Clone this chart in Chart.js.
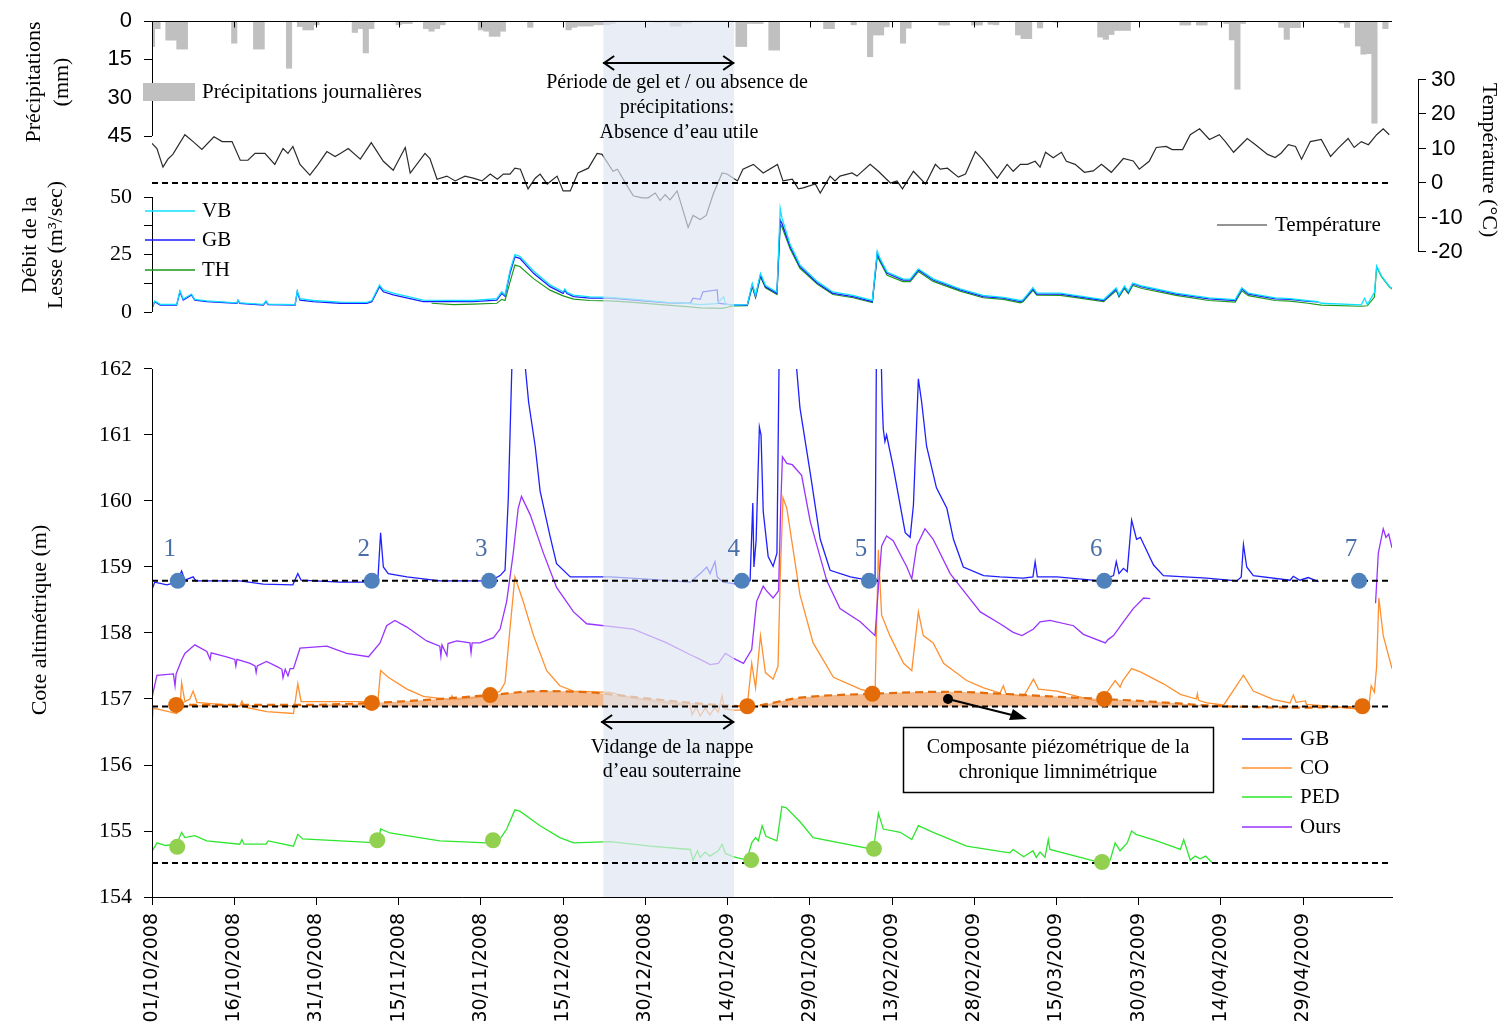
<!DOCTYPE html>
<html>
<head>
<meta charset="utf-8">
<script src="https://cdn.jsdelivr.net/npm/chart.js@4.4.1/dist/chart.umd.min.js"></script>
<style>
  html, body { margin: 0; padding: 0; background: #fff; }
</style>
</head>
<body>
<canvas id="chart" width="1506" height="1036"></canvas>
<script>
// ---- x axis: days since 01/10/2008 ----
const dateTickDays = [0, 15, 30, 45, 60, 75, 90, 105, 120, 135, 150, 165, 180, 195, 210];
const dateTickLabels = ['01/10/2008', '16/10/2008', '31/10/2008', '15/11/2008', '30/11/2008',
  '15/12/2008', '30/12/2008', '14/01/2009', '29/01/2009', '13/02/2009', '28/02/2009',
  '15/03/2009', '30/03/2009', '14/04/2009', '29/04/2009'];
const lastDay = 226.2;
const frostPeriod = [82.3, 106.2];

const precipTicks = [0, 15, 30, 45];
const tempTicks = [30, 20, 10, 0, -10, -20];
const flowTicks = [0, 12.5, 25, 37.5, 50];
const levelTicks = [154, 155, 156, 157, 158, 159, 160, 161, 162];

// daily precipitation [day, mm]
const precipitation = [[0,10],[1,3],[3,7.5],[4,7.5],[5,11],[6,11],[15,8.7],[19,11],[20,11],[25,18.5],
  [27,2.2],[28,3.5],[29,3.5],[30,1.5],[37,4.5],[38,3],[39,12.5],[40,3],[45,1.5],[46,1],[47,1],
  [50,3],[51,4],[52,3],[53,1.5],[60,3.5],[61,4],[62,6],[63,6],[64,4],[69,2.5],[76,3.5],[77,2.5],
  [78,2],[79,2],[80,2],[81,1.5],[82,1.5],[83,1.5],[84,1],[92,0.5],[93,0.5],[95,2],[96,2],[97,0.8],
  [98,0.8],[107,10],[108,10],[109,1],[110,1],[111,1],[113,11.4],[114,11.4],[123,3],[124,3],[128,1.5],
  [131,14],[132,5.5],[133,5.5],[134,2.3],[137,8.7],[138,2.8],[144,1.6],[145,1.6],[150,1.6],[151,1.6],
  [153,1.3],[154,1.5],[158,5.5],[159,6.9],[160,6.9],[162,2.7],[165,0.5],[173,6.3],[174,7.2],[175,5.3],
  [176,3.7],[177,3.7],[178,3.7],[188,1.6],[189,1.6],[191,1.6],[192,1.6],[196,1],[197,7.4],[198,26.7],
  [199,1],[206,2.5],[207,7.2],[208,2.6],[209,2.6],[217,0.8],[218,2.5],[220,9.8],[221,13],[222,12.8],
  [223,40],[225,3]];

// daily temperature [day, °C]
const temperature = [[0,11.5],[0.9,10],[2,4.6],[2.9,6.9],[3.8,8.3],[6,14],[7.5,12],[9.1,9.7],[11.3,13.4],
  [12.8,12],[14.6,12],[16.1,6.6],[17.5,6.6],[18.8,8.6],[20.6,8.6],[22.4,5.4],[23.9,10],[24.8,8.6],
  [25.7,10.6],[27,5.4],[28.8,2.3],[30.3,5.4],[31.9,9.1],[33.4,7.7],[34.5,8.7],[35.8,10],[38,6.9],
  [40,11.7],[42.2,6.3],[44,3.7],[46.2,10.3],[47.1,2.9],[49.8,8.6],[50.7,7.1],[52,1.1],[53.8,2],
  [55.3,0.6],[57.1,2],[58.6,1.4],[60.2,0.6],[61.7,2.6],[63,1.1],[64.1,2.6],[65.3,2.6],[66.2,4.3],
  [67.2,4],[68.6,-1.7],[69.9,1.4],[70.8,2.6],[72.1,-0.3],[73.9,2],[75,-2.3],[76.3,-2.3],[77.7,2.9],
  [79.6,4.3],[81.2,8.6],[82.1,8.3],[84.1,3.4],[84.9,4],[86.7,-0.9],[87.8,-3.7],[89.4,-4.3],[90.5,-4.3],
  [91.8,-2.9],[92.7,-5.1],[93.6,-3.4],[94.5,-4.9],[95.8,-2.3],[97.8,-12.9],[98.7,-9.4],[100,-10.6],
  [101.1,-9.4],[102.4,-3.1],[104,2.9],[104.9,2.6],[106.8,0.6],[107.8,4],[109.7,5.4],[111.5,2.9],
  [114.1,5.4],[115.1,0.6],[116.8,1.1],[117.9,-1.7],[118.8,-1.4],[121,-0.3],[121.9,-2.9],[123.7,2],
  [124.6,0.6],[125.5,2],[127.7,2.9],[128.6,2],[131,5.4],[132.5,3.4],[134.7,0],[135.9,0.6],[136.9,-1.7],
  [138.9,3.4],[141.1,-0.3],[142.9,5.4],[143.8,4],[145.1,4.3],[147.1,1.7],[148.4,2.6],[150.2,9.1],
  [151.5,6.9],[154.2,1.4],[156,5.4],[157.1,3.4],[158.4,5.4],[159.7,5.4],[161.1,6.3],[162,4.6],[163,8.9],
  [164.4,7.3],[165.9,8.9],[166.8,6.3],[168.4,5.4],[170.1,3.1],[171.7,3.5],[173.2,5.4],[175,3.1],
  [177.2,7.1],[179,6.4],[180.1,4],[181.9,6.3],[183.2,10.3],[185,10.6],[186.1,9.7],[188,9.7],[189.4,14],
  [191.1,15.7],[192.9,12.6],[194.7,14],[195.8,12],[197.3,8.9],[199.8,12.9],[201.3,11.1],[203.5,8.3],
  [204.9,7.4],[206,8.7],[207.3,11.1],[208.6,10.6],[209.7,6.9],[211.3,12],[213.3,12.6],[215,7.7],
  [216.4,10.1],[218.2,12.9],[219.3,10.3],[220.6,12],[221.9,11.1],[223.4,14],[224.6,15.7],[225.7,14]];

// discharge of the Lesse [day, m3/s]
const flowVB = [[0,2],[0.5,4.8],[1.5,3.3],[4.5,3.3],[5.1,9.3],[5.7,5.6],[7.2,7.8],[7.8,5.5],[10,4.8],
  [15.5,4],[15.7,5.2],[16,4],[20.3,3.3],[20.8,4.8],[21.2,3.4],[26.1,3.2],[26.5,9.2],[27,5.8],[29.4,5],
  [34.3,4.3],[39.2,4.2],[40.1,5],[41.5,11.8],[42.2,9.6],[44,8.2],[49.5,5.2],[58.6,5],[62.9,5.8],
  [63.8,8.8],[64.4,7.4],[65.3,18],[66.2,25],[67.1,24.2],[69.6,17.8],[72.6,11.8],[75,8.8],[75.3,10],
  [75.7,8.6],[76.9,7.3],[79.9,6.6],[83.6,6.4],[87.8,5.6],[94,4.2],[98.2,3.6],[100,3.2],[103,3.6],
  [104.3,6.6],[104.6,3.4],[106,3],[108.6,3.2],[109.5,12.3],[110.1,7.2],[111,16.8],[111.9,11.6],[114,8.6],
  [114.6,45],[114.9,41],[116.4,29.4],[118.2,20.5],[121.4,13.2],[124.2,8.7],[127.9,7.2],[131.4,5],
  [132.3,26.5],[132.8,23.3],[134.1,17.4],[137,14.4],[138.3,14.3],[138.8,15.8],[139.8,18.8],[142.5,14.4],
  [147.4,10.1],[151.6,7.2],[155.3,6.4],[158.4,5],[158.9,5.4],[160.7,10.6],[161.4,8.3],[165.7,8.2],
  [173.6,5.4],[175.9,10.5],[176.4,7.4],[177.4,11.3],[178.1,8.9],[178.9,12.6],[180.6,11.3],[186.8,8.2],
  [192.8,6.1],[197.6,5.4],[198.8,10.5],[200,8.2],[204.9,6.1],[207.6,5.8],[210.9,4.9],[212.7,4.5],
  [213.3,3.8],[220.6,3.1],[221.2,6],[221.7,3.2],[223,8.5],[223.4,20],[224.3,15.6],[225.7,11.2],[226.2,10.3]];
const flowGB = [[0,1.6],[0.5,4.5],[1.5,3],[4.5,3],[5.1,8.8],[5.7,5.2],[7.2,7.4],[7.8,5.2],[10,4.5],
  [15.5,3.8],[15.7,5],[16,3.8],[20.3,3],[20.8,4.5],[21.2,3.2],[26.1,3],[26.5,8.8],[27,5.2],[29.4,4.5],
  [34.3,3.8],[39.2,3.8],[40.1,4.5],[41.5,11],[42.2,8.8],[44,7.4],[49.5,4.5],[58.6,4.5],[62.9,5.2],
  [63.8,8.1],[64.4,6.8],[65.3,16.8],[66.2,24],[67.1,23.3],[69.6,16.8],[72.6,11],[75,8.1],[75.3,9.5],
  [75.7,8],[76.9,6.7],[79.9,6],[83.6,6],[87.8,5.2],[94,4],[98.2,3.8],[98.7,6],[100,5.5],[100.5,8.8],
  [103.1,9.6],[103.3,3.8],[106,3],[108.6,3],[109.5,11.7],[110.1,6.7],[111,16],[111.9,11],[114,8.1],
  [114.6,40],[114.9,38.6],[116.4,28.4],[118.2,19.7],[121.4,12.5],[124.2,8.1],[127.9,6.7],[131.4,4.5],
  [132.3,25.5],[132.8,22.6],[134.1,16.8],[137,13.9],[138.3,13.9],[138.8,15.3],[139.8,18.3],[142.5,13.9],
  [147.4,9.6],[151.6,6.7],[155.3,6],[158.4,4.5],[158.9,5],[160.7,10],[161.4,7.8],[165.7,7.8],[173.6,5],
  [175.9,10],[176.4,7],[177.4,10.9],[178.1,8.5],[178.9,12.2],[180.6,10.9],[186.8,7.8],[192.8,5.7],
  [197.6,5],[198.8,10],[200,7.8],[204.9,5.7],[207.6,5.5],[210.9,4.6],[212.7,4.4]];
const flowTH = [[51,3.8],[55,3.2],[58.6,3.4],[62.9,3.8],[63.8,5.5],[64.4,5],[65.3,13],[66.2,20.4],
  [67.1,19.8],[69.6,14.5],[72.6,9.5],[75,7],[76.9,5.6],[79.9,5],[83.6,4.8],[87.8,4.2],[94,3],[98.2,2.2],
  [100,1.8],[104,1.6],[106,2.6],[108.6,2.8],[109.5,11],[110.1,6.2],[111,15.3],[111.9,10.5],[114,7.6],
  [114.6,38],[114.9,37],[116.4,27.5],[118.2,19],[121.4,12],[124.2,7.6],[127.9,6.2],[131.4,4.1],
  [132.3,24.5],[132.8,21.8],[134.1,16],[137,13.2],[138.3,13.2],[138.8,14.6],[139.8,17.6],[142.5,13.3],
  [147.4,9.1],[151.6,6.2],[155.3,5.5],[158.4,4],[158.9,4.5],[160.7,9.4],[161.4,7.3],[165.7,7.2],
  [173.6,4.5],[175.9,9.3],[176.4,6.5],[177.4,10.2],[178.1,8],[178.9,11.5],[180.6,10.2],[186.8,7.2],
  [192.8,5],[197.6,4.3],[198.8,9.2],[200,7.1],[204.9,5],[207.6,4.7],[210.9,3.8],[213.3,3],[220.6,2.5],
  [221.7,2.7],[223,6.5],[223.4,19.6],[224.3,15.2],[225.7,10.9],[226.2,10]];

// water levels [day, m]
const levelGB = [[0,158.66],[0.5,158.77],[2.7,158.73],[4.5,158.77],[5.4,158.94],[6,158.8],[7.5,158.85],
  [8,158.79],[16,158.79],[20.3,158.74],[25.7,158.73],[26.6,158.9],[27.2,158.8],[34.3,158.77],[39.8,158.77],
  [41.2,158.8],[41.7,159.52],[42.2,159],[43.1,158.9],[46.5,158.85],[52.5,158.79],[61.7,158.79],
  [63.5,158.87],[64.4,158.95],[65,160.05],[65.7,162.2],[66.8,163.5],[67.9,162.2],[68.7,161.5],
  [69.9,160.83],[70.8,160.15],[72.6,159.47],[73.8,159.05],[76.3,158.85],[83.6,158.85],[89.6,158.82],
  [98.2,158.77],[100,158.9],[101.2,159],[101.8,158.9],[102.7,159.08],[103.1,158.85],[104.2,158.77],
  [106.7,158.74],[109.1,158.79],[109.6,159.97],[109.8,159],[110.2,159.4],[110.8,161.12],[111.1,161],
  [111.5,159.84],[112.4,159.16],[113.3,159.01],[114,159.21],[114.4,162.2],[115.3,164],[117.3,162.3],
  [118.2,161.41],[120.1,160.41],[121.9,159.42],[123.7,158.95],[127.4,158.85],[131.3,158.79],
  [131.9,158.85],[132.2,163],[132.8,163],[133.2,161.5],[133.4,161.09],[133.7,160.9],[134,161],
  [135.2,160.52],[137.4,159.52],[138.3,159.45],[138.9,159.94],[139.8,161.85],[140.4,161.5],[141.3,160.83],
  [143.1,160.2],[145,159.89],[146.2,159.42],[148,159],[151.7,158.87],[154.7,158.85],[158.9,158.83],
  [160.7,158.85],[161.1,159.08],[161.5,158.85],[165.1,158.85],[173,158.79],[175.4,158.87],[175.9,159.08],
  [176.4,158.9],[177.2,158.98],[177.9,158.93],[178.7,159.71],[179.6,159.42],[180.3,159.45],[182.7,159.03],
  [184.5,158.87],[192.4,158.83],[197.9,158.79],[198.7,158.85],[199.1,159.34],[199.7,159],[200.9,158.87],
  [207.6,158.8],[208.2,158.86],[209.4,158.8],[210.9,158.84],[212.8,158.78]];
const levelCO = [[0,156.6],[0.2,156.86],[1.5,156.84],[4.5,156.78],[5.1,156.85],[5.4,157.25],[6,156.96],
  [6.9,157],[7.5,157.12],[8.2,156.95],[16,156.89],[16.4,156.97],[16.8,156.88],[20.9,156.81],[25.8,156.78],
  [26.6,157.23],[27.2,156.96],[34.3,156.96],[41.2,156.96],[41.7,157.43],[43.1,157.33],[46.5,157.15],
  [49.5,157.04],[54.4,156.99],[54.7,157.05],[55.1,156.99],[61.7,157.04],[63.5,157.12],[64.4,157.25],
  [65.3,158.06],[66.2,158.85],[67.7,158.48],[69.6,157.96],[72,157.43],[74.4,157.2],[76.9,157.12],
  [83.6,157.1],[87.8,157.01],[93.9,156.94],[98.2,156.9],[98.5,156.76],[99.3,156.88],[100,156.74],
  [100.9,156.86],[101.8,156.76],[102.6,156.87],[103.3,156.8],[104,157.05],[104.4,156.85],[106,156.83],
  [108.5,156.83],[109.4,157.54],[110.1,157.17],[111,157.96],[111.9,157.4],[113.3,157.3],[114.2,157.5],
  [114.6,158.85],[115.1,160.05],[115.8,159.89],[118.2,158.58],[120.6,157.85],[124.3,157.33],
  [129.2,157.15],[131.9,157.09],[132.5,159.26],[133.1,158.27],[134.6,157.96],[137.1,157.54],
  [138.6,157.43],[139.8,158.32],[140.7,157.96],[142.5,157.85],[144.4,157.54],[148.6,157.28],
  [151.7,157.17],[154.7,157.09],[155.3,157.2],[155.8,157.08],[159,157.04],[160.8,157.3],[161.7,157.15],
  [165.1,157.12],[171.1,156.99],[173,156.96],[175.7,157.28],[176.6,157.18],[177.1,157.28],[178.7,157.46],
  [180.3,157.41],[184.5,157.23],[187.6,157.07],[190.5,157],[190.7,157.08],[190.9,156.98],[192.4,156.94],
  [195.5,156.91],[199.1,157.36],[200.9,157.12],[204.6,156.99],[207.6,156.94],[208.2,157.06],[208.7,156.95],
  [210.4,156.97],[210.6,156.92],[218.6,156.86],[220.8,156.84],[222,156.9],[222.4,157.2],[223,157.1],
  [223.4,157.5],[223.8,158.53],[224.6,157.96],[226.2,157.46]];
const levelPED = [[0,154.69],[0.9,154.82],[2.5,154.78],[4.5,154.8],[5.4,154.98],[6,154.9],[7.8,154.93],
  [10,154.85],[16,154.8],[16.4,154.87],[16.8,154.8],[20.8,154.8],[21.2,154.85],[25.8,154.77],[26.6,154.95],
  [27.5,154.88],[34.3,154.85],[41.3,154.82],[41.7,155.03],[43.4,154.97],[52.5,154.85],[61.1,154.82],
  [63.5,154.88],[64.7,155.03],[66.2,155.32],[67.1,155.3],[70.8,155.08],[74.4,154.9],[76.9,154.82],
  [83.6,154.84],[90.9,154.77],[98.2,154.72],[98.7,154.56],[99.5,154.7],[100,154.6],[100.9,154.68],
  [101.8,154.62],[103.3,154.7],[104,154.8],[104.6,154.66],[106,154.61],[108.5,154.56],[109.4,154.82],
  [110.1,154.9],[110.6,154.85],[111.3,155.08],[112,154.92],[114,154.85],[114.9,155.37],[115.7,155.35],
  [118.2,155.14],[120.6,154.9],[125.5,154.82],[131.6,154.72],[132.5,155.27],[133.4,155.03],[136.5,154.98],
  [138.6,154.87],[139.8,155.08],[142.5,154.98],[148.6,154.77],[154.7,154.69],[156.5,154.67],[157.1,154.72],
  [159,154.61],[160.7,154.7],[161.3,154.6],[162,154.68],[162.9,154.6],[163.5,154.87],[163.8,154.72],
  [173,154.52],[174.8,154.56],[175.7,154.82],[176.6,154.7],[177.9,154.82],[178.7,155],[179.5,154.95],
  [183.3,154.85],[187.6,154.72],[188.2,154.87],[189.4,154.56],[190.3,154.62],[191.2,154.58],[192.2,154.62],
  [193.4,154.52]];
const levelOurs = [[0,157.01],[0.2,157.1],[0.9,157.36],[3.9,157.38],[4.2,157.2],[4.4,157.38],[5.4,157.59],
  [6,157.69],[7.8,157.82],[10,157.72],[10.6,157.6],[10.8,157.7],[13.6,157.64],[15.1,157.6],[15.3,157.5],
  [15.5,157.6],[17.9,157.54],[18.8,157.5],[19,157.4],[19.2,157.5],[20.9,157.57],[22.8,157.49],[23.7,157.45],
  [23.9,157.32],[24.3,157.45],[24.8,157.35],[25.2,157.46],[25.8,157.46],[27,157.77],[31.9,157.8],
  [35.5,157.69],[39.5,157.64],[41.6,157.85],[42.8,158.11],[44.3,158.19],[46.5,158.09],[50.1,157.88],
  [52.5,157.8],[52.7,157.65],[52.9,157.82],[53.8,157.66],[54,157.84],[55.6,157.88],[58,157.85],
  [58.2,157.7],[58.4,157.85],[59.8,157.85],[62.3,157.93],[63.5,158.06],[64.7,158.48],[65.9,159.21],
  [66.8,159.89],[67.4,160.07],[69,159.79],[71.4,159.21],[73.8,158.69],[76.9,158.32],[79.3,158.14],
  [87.8,158.06],[93.9,157.85],[98.2,157.67],[100,157.6],[101.8,157.52],[103.3,157.54],[104.6,157.69],
  [106,157.62],[107.9,157.54],[109.4,157.75],[110.3,158.48],[111.5,158.71],[112,158.65],[113.3,158.53],
  [114.3,158.64],[114.7,159.94],[115,160.67],[115.8,160.57],[116.8,160.55],[118.5,160.39],[120.1,159.68],
  [123.1,158.79],[125.5,158.37],[129.2,158.17],[131.9,157.96],[132.5,158.69],[133.1,159.32],[134,159.47],
  [135.2,159.4],[137.7,159],[138.6,158.82],[139.5,159.32],[141,159.58],[142.5,159.42],[145.6,158.9],
  [148.6,158.58],[151.1,158.32],[154.7,158.14],[157.1,158.01],[158.7,157.96],[160.8,158.06],[162,158.17],
  [163.8,158.19],[168.1,158.11],[169.9,157.98],[173.9,157.85],[174.4,157.9],[175.4,157.96],[177.2,158.17],
  [179,158.37],[180.9,158.53],[182.1,158.52],[182.2,null],
  [223.2,158.45],[223.7,159.21],[224.6,159.58],[225.1,159.45],[225.6,159.5],[226.2,159.29]];

// piezometric component of the CO record
const coBaseflow = [[4.4,156.91],[27,156.91],[40.1,156.94],[50.7,156.99],[61.7,157.06],[70.8,157.12],
  [79.9,157.1],[89,157.02],[100,156.93],[108.6,156.89],[118.2,157.02],[131.4,157.08],[145.6,157.11],
  [154.7,157.08],[163.8,157.04],[173.7,157],[184.3,156.95],[193,156.9],[209.5,156.87],[220.8,156.88]];

// reference levels (dashed lines)
const refGB = 158.79, refCO = 156.885, refPED = 154.515;

// sampling events
const eventLabels = ['1', '2', '3', '4', '5', '6', '7'];
const eventDays = [4.7, 40.1, 61.5, 107.6, 130.8, 173.7, 220.2];
const dotsCO = [[4.4,156.91],[40.1,156.94],[61.7,157.06],[108.6,156.89],[131.4,157.08],[173.7,157.0],[220.8,156.89]];
const dotsPED = [[4.6,154.76],[41.1,154.86],[62.2,154.86],[109.3,154.56],[131.7,154.73],[173.3,154.53]];

// ---- layout helpers ----
const AREA = { top: 20, bottom: 897, left: 152, right: 1392 };
function axisRange(v0, p0, v1, p1, reverse) {
  const at = p => v0 + (v1 - v0) * (p - p0) / (p1 - p0);
  return reverse ? { min: at(AREA.top), max: at(AREA.bottom) } : { min: at(AREA.bottom), max: at(AREA.top) };
}
const SERIF = "'Liberation Serif', 'Times New Roman', serif";
const SANS = "'Liberation Sans', Arial, sans-serif";

const pts = arr => arr.map(([x, y]) => ({ x, y }));

// y axes take no room in the layout; they are all drawn at the plot edge
const noRoom = s => { s.width = 0; s.paddingTop = 0; s.paddingBottom = 0; };

function leftAxis(range, ticks, font, extra) {
  return Object.assign({
    type: 'linear', position: 'left', min: range.min, max: range.max,
    afterBuildTicks: s => { s.ticks = ticks.map(v => ({ value: v })); },
    afterFit: noRoom,
    ticks: { font: { family: font, size: 22 }, color: '#000', padding: 12 },
    grid: { display: true, drawOnChartArea: false, drawTicks: true, tickLength: 8, color: '#000' },
    border: { display: false }
  }, extra || {});
}

const line = (data, axis, color, width, extra) => Object.assign({
  type: 'line', data: pts(data), yAxisID: axis, borderColor: color, borderWidth: width,
  pointRadius: 0, fill: false, tension: 0, order: 3
}, extra || {});
const dots = (data, axis, color) => ({
  type: 'line', data: pts(data), yAxisID: axis, showLine: false, pointRadius: 8,
  pointBackgroundColor: color, pointBorderWidth: 0, order: 0
});

const datasets = [
  { type: 'bar', data: pts(precipitation), yAxisID: 'yP', backgroundColor: '#c0c0c0',
    barPercentage: 1, categoryPercentage: 1, grouped: false, order: 3 },
  line(temperature, 'yT', '#2a2a2a', 1.2),
  line(flowVB, 'yQ', '#10e0ff', 1.3),
  line(flowGB, 'yQ', '#1a1aff', 1.3),
  line(flowTH, 'yQ', '#1a9a1a', 1.2),
  line(coBaseflow, 'yL', '#e46c0a', 2.2, { borderDash: [8, 5], cubicInterpolationMode: 'monotone',
    fill: { value: refCO }, backgroundColor: 'rgba(240,160,100,0.72)' }),
  line(levelOurs, 'yL', '#9933ff', 1.3),
  line(levelCO, 'yL', '#ff9030', 1.3),
  line(levelPED, 'yL', '#2ee62e', 1.3),
  line(levelGB, 'yL', '#1f1fff', 1.3, { panelTop: 162 }),
  // frost period band, drawn over the series
  { type: 'line', data: pts([[frostPeriod[0], 154], [frostPeriod[1], 154]]), yAxisID: 'yL',
    borderWidth: 0, pointRadius: 0, fill: 'end', backgroundColor: 'rgba(222,230,242,0.68)', order: 2 },
  line([[0, 0], [lastDay, 0]], 'yT', '#000', 2, { borderDash: [6, 4], order: 1 }),
  line([[0, refGB], [lastDay, refGB]], 'yL', '#000', 2, { borderDash: [6, 4], order: 1 }),
  line([[0, refCO], [lastDay, refCO]], 'yL', '#000', 2, { borderDash: [6, 4], order: 1 }),
  line([[0, refPED], [lastDay, refPED]], 'yL', '#000', 2, { borderDash: [6, 4], order: 1 }),
  dots(eventDays.map(d => [d, refGB]), 'yL', '#4f81bd'),
  dots(dotsCO, 'yL', '#e36c09'),
  dots(dotsPED, 'yL', '#92d050')
];

// give the zero-width axes room to draw their labels, place the temperature axis
const axisPlacement = {
  id: 'axisPlacement',
  afterLayout(chart) {
    ['yP', 'yQ', 'yL'].forEach(id => { chart.scales[id].left = 0; });
    const t = chart.scales.yT;
    t.left = chart.chartArea.right + 26;
    t.right = chart.width;
  }
};

// clip series to their own panel
const panelClip = {
  id: 'panelClip',
  beforeDatasetDraw(chart, args) {
    const ds = chart.data.datasets[args.index];
    if (ds.panelTop === undefined) return;
    const a = chart.chartArea;
    const y = chart.scales[ds.yAxisID].getPixelForValue(ds.panelTop);
    chart.ctx.save();
    chart.ctx.beginPath();
    chart.ctx.rect(a.left, y, a.right - a.left, a.bottom - y);
    chart.ctx.clip();
  },
  afterDatasetDraw(chart, args) {
    if (chart.data.datasets[args.index].panelTop !== undefined) chart.ctx.restore();
  }
};

// axes segments, titles, legends and annotations
const decor = {
  id: 'decor',
  afterDatasetsDraw(chart) {
    const { ctx, chartArea: a, scales } = chart;
    const sx = scales.x;
    const seg = (x1, y1, x2, y2) => { ctx.beginPath(); ctx.moveTo(x1, y1); ctx.lineTo(x2, y2); ctx.stroke(); };
    const text = (s, x, y, font, align, color) => {
      ctx.font = font; ctx.textAlign = align || 'left'; ctx.textBaseline = 'middle';
      ctx.fillStyle = color || '#000'; ctx.fillText(s, x, y);
    };
    const rtext = (s, x, y, rot, font) => {
      ctx.save(); ctx.translate(x, y); ctx.rotate(rot);
      text(s, 0, 0, font, 'center'); ctx.restore();
    };
    const dblArrow = (x1, x2, y) => {
      ctx.lineWidth = 2;
      seg(x1, y, x2, y);
      ctx.beginPath(); ctx.moveTo(x1 + 11, y - 7); ctx.lineTo(x1 + 1, y); ctx.lineTo(x1 + 11, y + 7); ctx.stroke();
      ctx.beginPath(); ctx.moveTo(x2 - 11, y - 7); ctx.lineTo(x2 - 1, y); ctx.lineTo(x2 - 11, y + 7); ctx.stroke();
    };
    ctx.save();
    ctx.strokeStyle = '#000'; ctx.lineWidth = 1;

    // vertical axis lines
    const L = a.left + 0.5;
    seg(L, scales.yP.getPixelForValue(0), L, scales.yP.getPixelForValue(45));
    seg(L, scales.yQ.getPixelForValue(0), L, scales.yQ.getPixelForValue(50));
    seg(L, scales.yL.getPixelForValue(154), L, scales.yL.getPixelForValue(162));
    const tx = scales.yT.left + 0.5;
    seg(tx, scales.yT.getPixelForValue(30), tx, scales.yT.getPixelForValue(-20));
    // top axis
    const y0 = Math.round(scales.yP.getPixelForValue(0)) + 0.5;
    seg(a.left, y0, a.right, y0);
    dateTickDays.forEach(d => { const p = Math.round(sx.getPixelForValue(d)) + 0.5; seg(p, y0, p, y0 + 6); });

    // axis titles
    const tf = '22px ' + SERIF;
    rtext('Précipitations', 34, 82, -Math.PI / 2, tf);
    rtext('(mm)', 62, 82, -Math.PI / 2, tf);
    rtext('Débit de la', 30, 245, -Math.PI / 2, tf);
    rtext('Lesse (m³/sec)', 56, 245, -Math.PI / 2, tf);
    rtext('Cote altimétrique (m)', 40, 620, -Math.PI / 2, tf);
    rtext('Température (°C)', 1489, 160, Math.PI / 2, tf);

    // legends
    const lf = '21px ' + SERIF;
    ctx.fillStyle = '#c0c0c0'; ctx.fillRect(143, 83, 52, 18);
    text('Précipitations journalières', 202, 92, lf);
    [['VB', '#10e0ff', 211], ['GB', '#1a1aff', 240], ['TH', '#1a9a1a', 270]].forEach(([n, c, y]) => {
      ctx.strokeStyle = c; ctx.lineWidth = 1.5; seg(145, y, 195, y); text(n, 202, y, lf);
    });
    ctx.strokeStyle = '#2a2a2a'; ctx.lineWidth = 1.2; seg(1217, 225, 1267, 225);
    text('Température', 1275, 225, lf);
    [['GB', '#1f1fff', 739], ['CO', '#ff9030', 768], ['PED', '#2ee62e', 797], ['Ours', '#9933ff', 827]]
      .forEach(([n, c, y]) => { ctx.strokeStyle = c; ctx.lineWidth = 1.5; seg(1242, y, 1292, y); text(n, 1300, y, lf); });

    // frost period annotations
    ctx.strokeStyle = '#000';
    const bx1 = sx.getPixelForValue(frostPeriod[0]), bx2 = sx.getPixelForValue(frostPeriod[1]);
    dblArrow(bx1, bx2, 63);
    const af = '20px ' + SERIF;
    text('Période de gel et / ou absence de', 677, 83, af, 'center');
    text('précipitations:', 677, 108, af, 'center');
    text('Absence d’eau utile', 679, 133, af, 'center');
    dblArrow(bx1 - 2, bx2, 722);
    text('Vidange de la nappe', 672, 748, af, 'center');
    text('d’eau souterraine', 672, 772, af, 'center');

    // piezometric component label
    ctx.lineWidth = 1.5; ctx.strokeRect(903.5, 727.5, 310, 65);
    text('Composante piézométrique de la', 1058, 748, af, 'center');
    text('chronique limnimétrique', 1058, 773, af, 'center');
    ctx.fillStyle = '#000';
    ctx.beginPath(); ctx.arc(948, 699, 5, 0, Math.PI * 2); ctx.fill();
    ctx.lineWidth = 2; seg(948, 699, 1012, 715);
    ctx.beginPath(); ctx.moveTo(1027, 719); ctx.lineTo(1009, 720); ctx.lineTo(1013, 709); ctx.closePath(); ctx.fill();

    // event numbers
    eventDays.forEach((d, i) => {
      text(eventLabels[i], sx.getPixelForValue(d) - 8, 549, '25px ' + SERIF, 'center', '#4a6ea6');
    });
    ctx.restore();
  }
};

const ctx = document.getElementById('chart').getContext('2d');
const chart = new Chart(ctx, {
  type: 'line',
  data: { datasets },
  plugins: [axisPlacement, panelClip, decor],
  options: {
    responsive: false,
    animation: false,
    devicePixelRatio: 1,
    layout: { padding: { left: AREA.left, right: 1506 - AREA.right, top: AREA.top, bottom: 0 } },
    plugins: { legend: { display: false }, tooltip: { enabled: false } },
    scales: {
      x: {
        type: 'linear', position: 'bottom', min: 0, max: lastDay, offset: false,
        afterBuildTicks: s => { s.ticks = dateTickDays.map(v => ({ value: v })); },
        afterFit: s => { s.height = 1036 - AREA.bottom; s.paddingLeft = 0; s.paddingRight = 0; },
        ticks: {
          callback: v => dateTickLabels[dateTickDays.indexOf(v)],
          font: { family: "'DejaVu Sans', Verdana, sans-serif", size: 19 }, color: '#000',
          minRotation: 90, maxRotation: 90, autoSkip: false, padding: 8
        },
        grid: { display: true, drawOnChartArea: false, offset: false, tickLength: 8, color: '#000' },
        border: { display: true, color: '#000', width: 1 }
      },
      yP: leftAxis(axisRange(0, 21, 45, 136, true), precipTicks, SANS, { reverse: true }),
      yQ: leftAxis(axisRange(50, 197, 0, 312), flowTicks, SERIF, {
        ticks: { font: { family: SERIF, size: 22 }, color: '#000', padding: 12,
          callback: v => (v % 25 === 0 ? String(v) : '') }
      }),
      yL: leftAxis(axisRange(162, 369, 154, 897), levelTicks, SERIF),
      yT: {
        type: 'linear', position: 'right', ...axisRange(30, 79.5, -20, 252),
        afterBuildTicks: s => { s.ticks = tempTicks.map(v => ({ value: v })); },
        afterFit: noRoom,
        ticks: { font: { family: SANS, size: 22 }, color: '#000', padding: 5 },
        grid: { display: true, drawOnChartArea: false, drawTicks: true, tickLength: 8, color: '#000' },
        border: { display: false }
      }
    }
  }
});
</script>
</body>
</html>
